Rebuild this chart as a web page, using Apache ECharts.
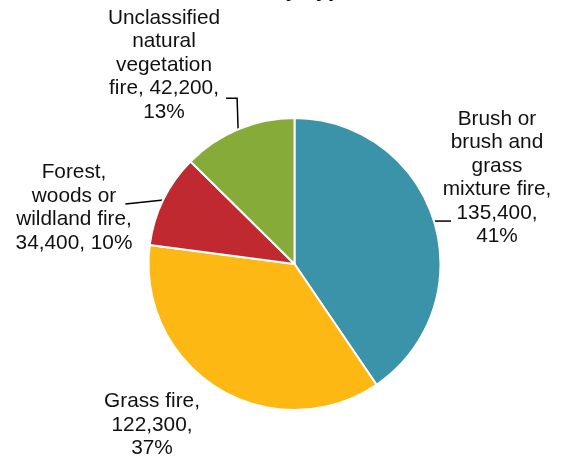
<!DOCTYPE html>
<html>
<head>
<meta charset="utf-8">
<script src="https://cdn.jsdelivr.net/npm/echarts@6/dist/echarts.min.js"></script>
<style>
  html, body { margin: 0; padding: 0; background: #ffffff; }
  #chart { width: 567px; height: 464px; }
</style>
</head>
<body>
<div id="chart"></div>
<script>
// Natural vegetation fires, split by incident type
const categories = [
  'Brush or\nbrush and\ngrass\nmixture fire',
  'Grass fire',
  'Forest,\nwoods or\nwildland fire',
  'Unclassified\nnatural\nvegetation\nfire'
];
const fireCounts = [135400, 122300, 34400, 42200];
// separators: [name -> count, count -> percent]
const labelSeparators = [
  [',\n', ',\n'],
  [',\n', ',\n'],
  [',\n', ', '],
  [', ', ',\n']
];
const sliceColors = ['#3A93A8', '#FDB813', '#C0292F', '#86AB38'];

const total = fireCounts.reduce((a, b) => a + b, 0);

// label block anchor (centre x, centre y) per slice
const labelAnchors = [
  [497, 178],
  [152, 425],
  [74, 208],
  [164, 65]
];

const fmt = v => v.toLocaleString('en-US');

const chart = echarts.init(document.getElementById('chart'), null, { renderer: 'canvas' });

chart.setOption({
  backgroundColor: '#ffffff',
  animation: false,
  title: {
    text: 'Fires by Type',
    left: 'center',
    top: -26,
    textStyle: {
      fontFamily: 'Liberation Sans, Arial, sans-serif',
      fontSize: 22,
      fontWeight: 'bold',
      color: '#000000'
    }
  },
  series: [{
    type: 'pie',
    center: [294.5, 264],
    radius: 146,
    startAngle: 90,
    clockwise: true,
    avoidLabelOverlap: false,
    itemStyle: { borderColor: '#ffffff', borderWidth: 2 },
    label: {
      show: true,
      position: 'outside',
      color: '#111111',
      fontFamily: 'Liberation Sans, Arial, sans-serif',
      fontSize: 20.8,
      lineHeight: 23.5,
      formatter: p => {
        const i = p.dataIndex;
        const pct = Math.round(p.value / total * 100);
        return categories[i] + labelSeparators[i][0] + fmt(p.value) + labelSeparators[i][1] + pct + '%';
      }
    },
    labelLine: {
      show: true,
      length: 10,
      length2: 10,
      lineStyle: { color: '#000000', width: 1.5 }
    },
    labelLayout: params => {
      const i = params.dataIndex;
      const pts = params.labelLinePoints;
      const out = {
        x: labelAnchors[i][0],
        y: labelAnchors[i][1],
        align: 'center',
        verticalAlign: 'middle'
      };
      if (pts && pts.length) {
        const p0 = pts[0];
        let line;
        if (i === 0) {
          line = [p0, [p0[0] + 8, p0[1]], [p0[0] + 17, p0[1]]];
        } else if (i === 2) {
          line = [p0, [p0[0] - 19, p0[1] + 2], [p0[0] - 38, p0[1] + 4]];
        } else if (i === 3) {
          line = [p0, [p0[0] - 1, p0[1] - 31], [p0[0] - 12, p0[1] - 31]];
        } else {
          line = [p0, p0, p0];
        }
        out.labelLinePoints = line;
      }
      return out;
    },
    data: fireCounts.map((v, i) => ({
      name: categories[i],
      value: v,
      itemStyle: { color: sliceColors[i] },
      labelLine: { show: i !== 1 }
    }))
  }]
});
</script>
</body>
</html>
